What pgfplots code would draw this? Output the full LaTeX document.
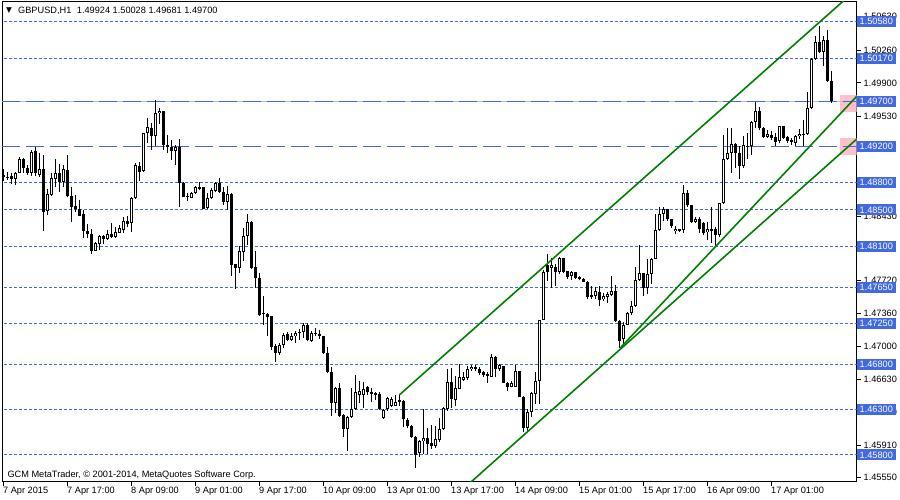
\documentclass[border=0pt]{standalone}
\usepackage{pgfplots}
\pgfplotsset{compat=1.18}
\usepackage{pgfplotstable}
\usepackage{fontspec}
\setmainfont{Liberation Sans}
\newfontfamily\dejavu{DejaVu Sans}
\newcommand\lab{\fontsize{9.2pt}{10pt}\selectfont}
\definecolor{boxblue}{RGB}{65,105,225}
\definecolor{pinkbox}{RGB}{255,192,203}
\definecolor{bidgray}{RGB}{192,192,192}
\definecolor{mtgreen}{RGB}{0,128,0}

\pgfplotstableread{
k o h l c
0 1.48885 1.48947 1.48822 1.48860
1 1.48866 1.48921 1.48830 1.48862
2 1.48874 1.48903 1.48782 1.48837
3 1.48837 1.48921 1.48774 1.48903
4 1.48903 1.49087 1.48903 1.49057
5 1.49057 1.49068 1.48903 1.48958
6 1.48958 1.48995 1.48885 1.48910
7 1.48910 1.49160 1.48874 1.49142
8 1.49149 1.49189 1.48874 1.48903
9 1.48885 1.49123 1.48859 1.48947
10 1.48947 1.49105 1.48271 1.48481
11 1.48492 1.48734 1.48444 1.48672
12 1.48664 1.48903 1.48653 1.48848
13 1.48837 1.49068 1.48756 1.48903
14 1.48903 1.49006 1.48701 1.48811
15 1.48811 1.48995 1.48756 1.48947
16 1.48947 1.49105 1.48646 1.48657
17 1.48657 1.48749 1.48371 1.48536
18 1.48543 1.48661 1.48481 1.48510
19 1.48510 1.48609 1.48433 1.48437
20 1.48451 1.48499 1.48187 1.48271
21 1.48268 1.48341 1.48187 1.48231
22 1.48231 1.48286 1.48011 1.48051
23 1.48051 1.48150 1.48047 1.48132
24 1.48125 1.48220 1.48058 1.48213
25 1.48213 1.48220 1.48125 1.48180
26 1.48180 1.48279 1.48169 1.48235
27 1.48235 1.48352 1.48187 1.48198
28 1.48198 1.48308 1.48187 1.48253
29 1.48249 1.48334 1.48242 1.48304
30 1.48286 1.48426 1.48249 1.48378
31 1.48378 1.48433 1.48308 1.48345
32 1.48352 1.48646 1.48260 1.48628
33 1.48628 1.49013 1.48617 1.48995
34 1.48984 1.49032 1.48822 1.48921
35 1.48929 1.49351 1.48921 1.49344
36 1.49344 1.49509 1.49233 1.49410
37 1.49410 1.49454 1.49160 1.49314
38 1.49314 1.49711 1.49204 1.49564
39 1.49564 1.49619 1.49443 1.49590
40 1.49590 1.49590 1.49160 1.49215
41 1.49215 1.49322 1.49123 1.49189
42 1.49197 1.49270 1.49050 1.49153
43 1.49153 1.49215 1.48995 1.49189
44 1.49197 1.49281 1.48528 1.48800
45 1.48800 1.48811 1.48639 1.48646
46 1.48653 1.48683 1.48598 1.48646
47 1.48635 1.48697 1.48628 1.48683
48 1.48683 1.48763 1.48675 1.48749
49 1.48749 1.48811 1.48719 1.48734
50 1.48749 1.48749 1.48506 1.48510
51 1.48517 1.48683 1.48510 1.48628
52 1.48628 1.48738 1.48617 1.48719
53 1.48712 1.48811 1.48701 1.48800
54 1.48800 1.48848 1.48690 1.48701
55 1.48701 1.48756 1.48554 1.48591
56 1.48591 1.48763 1.48499 1.48672
57 1.48672 1.48683 1.47774 1.47891
58 1.47902 1.47902 1.47634 1.47865
59 1.47865 1.48104 1.47803 1.48049
60 1.48038 1.48305 1.47939 1.48214
61 1.48214 1.48452 1.48111 1.48371
62 1.48371 1.48379 1.47847 1.47865
63 1.47876 1.48049 1.47645 1.47748
64 1.47748 1.47810 1.47326 1.47341
65 1.47363 1.47554 1.47238 1.47356
66 1.47359 1.47370 1.47113 1.47326
67 1.47334 1.47334 1.46959 1.46992
68 1.47002 1.47022 1.46828 1.46919
69 1.46919 1.47040 1.46905 1.47011
70 1.47015 1.47143 1.46977 1.47124
71 1.47132 1.47150 1.47059 1.47070
72 1.47066 1.47143 1.47059 1.47113
73 1.47106 1.47169 1.47033 1.47143
74 1.47143 1.47194 1.47070 1.47158
75 1.47150 1.47249 1.47084 1.47235
76 1.47235 1.47253 1.47059 1.47066
77 1.47059 1.47169 1.47048 1.47143
78 1.47150 1.47194 1.47113 1.47132
79 1.47132 1.47180 1.47084 1.47113
80 1.47106 1.47113 1.46912 1.46923
81 1.46923 1.46985 1.46699 1.46710
82 1.46710 1.46772 1.46226 1.46373
83 1.46373 1.46545 1.46259 1.46538
84 1.46538 1.46593 1.46222 1.46233
85 1.46241 1.46252 1.45995 1.46087
86 1.46087 1.46233 1.45848 1.46215
87 1.46215 1.46538 1.46204 1.46307
88 1.46307 1.46681 1.46299 1.46498
89 1.46461 1.46618 1.46373 1.46509
90 1.46461 1.46600 1.46314 1.46527
91 1.46545 1.46564 1.46461 1.46490
92 1.46490 1.46534 1.46387 1.46472
93 1.46483 1.46490 1.46409 1.46472
94 1.46472 1.46490 1.46296 1.46307
95 1.46204 1.46307 1.46197 1.46299
96 1.46307 1.46435 1.46288 1.46424
97 1.46343 1.46435 1.46332 1.46417
98 1.46343 1.46461 1.46336 1.46387
99 1.46398 1.46472 1.46343 1.46400
100 1.46398 1.46409 1.46105 1.46197
101 1.46189 1.46204 1.46094 1.46116
102 1.46123 1.46131 1.45984 1.45995
103 1.45995 1.46006 1.45660 1.45801
104 1.45823 1.45969 1.45774 1.45958
105 1.45958 1.46307 1.45806 1.45984
106 1.45984 1.46094 1.45811 1.45922
107 1.45933 1.46131 1.45870 1.45901
108 1.45901 1.46123 1.45874 1.45977
109 1.45969 1.46204 1.45947 1.46087
110 1.46087 1.46325 1.46076 1.46318
111 1.46307 1.46747 1.46288 1.46600
112 1.46601 1.46756 1.46315 1.46411
113 1.46411 1.46675 1.46344 1.46536
114 1.46528 1.46804 1.46528 1.46657
115 1.46631 1.46720 1.46620 1.46657
116 1.46646 1.46786 1.46631 1.46749
117 1.46749 1.46793 1.46731 1.46775
118 1.46767 1.46786 1.46720 1.46752
119 1.46749 1.46767 1.46683 1.46705
120 1.46712 1.46731 1.46657 1.46683
121 1.46694 1.46712 1.46594 1.46668
122 1.46657 1.46914 1.46657 1.46878
123 1.46878 1.46889 1.46657 1.46742
124 1.46742 1.46804 1.46731 1.46786
125 1.46778 1.46786 1.46594 1.46594
126 1.46594 1.46601 1.46510 1.46554
127 1.46554 1.46620 1.46547 1.46591
128 1.46554 1.46793 1.46547 1.46723
129 1.46723 1.46731 1.46436 1.46444
130 1.46444 1.46455 1.46050 1.46098
131 1.46098 1.46308 1.46050 1.46271
132 1.46271 1.46491 1.46216 1.46480
133 1.46473 1.46720 1.46363 1.46620
134 1.46620 1.47293 1.46359 1.47290
135 1.47290 1.47834 1.47283 1.47816
136 1.47891 1.48012 1.47719 1.47818
137 1.47865 1.47975 1.47645 1.47891
138 1.47876 1.47902 1.47664 1.47818
139 1.47818 1.47982 1.47792 1.47975
140 1.47975 1.47975 1.47810 1.47818
141 1.47829 1.47829 1.47744 1.47767
142 1.47767 1.47829 1.47730 1.47821
143 1.47821 1.47821 1.47744 1.47755
144 1.47767 1.47774 1.47730 1.47737
145 1.47744 1.47755 1.47708 1.47708
146 1.47711 1.47719 1.47524 1.47543
147 1.47561 1.47664 1.47517 1.47546
148 1.47554 1.47656 1.47517 1.47605
149 1.47601 1.47664 1.47444 1.47510
150 1.47517 1.47579 1.47499 1.47554
151 1.47543 1.47598 1.47473 1.47579
152 1.47561 1.47774 1.47554 1.47609
153 1.47609 1.47671 1.47261 1.47279
154 1.47279 1.47290 1.46975 1.47059
155 1.47077 1.47261 1.46986 1.47235
156 1.47235 1.47378 1.47231 1.47363
157 1.47363 1.47499 1.47341 1.47444
158 1.47444 1.47876 1.47433 1.47726
159 1.47726 1.48111 1.47719 1.47803
160 1.47810 1.47810 1.47554 1.47638
161 1.47645 1.47957 1.47572 1.47792
162 1.47792 1.47975 1.47682 1.47957
163 1.47957 1.48459 1.47957 1.48276
164 1.48276 1.48532 1.48268 1.48451
165 1.48459 1.48532 1.48378 1.48506
166 1.48506 1.48506 1.48378 1.48404
167 1.48404 1.48404 1.48305 1.48323
168 1.48268 1.48323 1.48232 1.48294
169 1.48276 1.48294 1.48257 1.48287
170 1.48279 1.48775 1.48250 1.48683
171 1.48690 1.48720 1.48529 1.48554
172 1.48554 1.48554 1.48360 1.48371
173 1.48371 1.48426 1.48360 1.48400
174 1.48400 1.48426 1.48242 1.48286
175 1.48352 1.48371 1.48224 1.48242
176 1.48261 1.48371 1.48169 1.48286
177 1.48286 1.48529 1.48139 1.48272
178 1.48286 1.48308 1.48103 1.48224
179 1.48224 1.48573 1.48198 1.48573
180 1.48573 1.49325 1.48566 1.49057
181 1.49057 1.49399 1.49050 1.49123
182 1.49123 1.49403 1.48909 1.49231
183 1.49231 1.49238 1.48964 1.49129
184 1.49129 1.49202 1.48836 1.48983
185 1.48983 1.49311 1.48964 1.49220
186 1.49209 1.49348 1.49056 1.49195
187 1.49202 1.49483 1.49110 1.49465
188 1.49465 1.49695 1.49403 1.49593
189 1.49593 1.49640 1.49377 1.49403
190 1.49403 1.49410 1.49293 1.49304
191 1.49304 1.49385 1.49293 1.49337
192 1.49330 1.49366 1.49275 1.49293
193 1.49300 1.49348 1.49202 1.49246
194 1.49257 1.49428 1.49238 1.49421
195 1.49421 1.49428 1.49282 1.49293
196 1.49304 1.49311 1.49238 1.49257
197 1.49268 1.49293 1.49220 1.49246
198 1.49238 1.49330 1.49209 1.49319
199 1.49311 1.49392 1.49282 1.49337
200 1.49326 1.49494 1.49202 1.49341
201 1.49337 1.49805 1.49330 1.49622
202 1.49622 1.50170 1.49611 1.50159
203 1.50159 1.50415 1.50152 1.50346
204 1.50346 1.50525 1.50232 1.50243
205 1.50243 1.50415 1.50086 1.50371
206 1.50371 1.50481 1.49915 1.49922
207 1.49924 1.50028 1.49681 1.49700
}\candles

\begin{document}
\begin{tikzpicture}
\useasboundingbox (0,0) rectangle (900pt,500pt);
\begin{axis}[
  at={(2.5pt,18pt)}, anchor=south west,
  scale only axis, width=854pt, height=480pt,
  xmin=-0.25, xmax=213.25,
  ymin=1.45502, ymax=1.50791,
  axis line style={line width=1pt, black},
  tick align=outside, xtick pos=bottom, ytick pos=right,
  major tick length=4pt,
  tick style={black, line width=0.8pt},
  xtick={0,16,...,192},
  xticklabels={,,,,,,,,,,,,},
  ytick={1.5063,1.5026,1.4990,1.4953,1.4843,1.4772,1.4736,1.4700,1.4663,1.4627,1.4591,1.4555},
  yticklabel pos=right,
  scaled y ticks=false,
  y tick label style={anchor=west, font=\lab, text height=6.6pt, text depth=0pt, inner ysep=2.2pt, inner xsep=3pt,
     /pgf/number format/fixed, /pgf/number format/fixed zerofill, /pgf/number format/precision=5, /pgf/number format/assume math mode=true},
  extra y ticks={1.5058,1.5017,1.4970,1.4920,1.4880,1.4850,1.4810,1.4765,1.4725,1.4680,1.4630,1.4580},
  extra y tick style={major tick length=0pt, y tick label style={fill=boxblue, text=white}},
]
% pink trendline price tags
\addplot[fill=pinkbox, draw=none] coordinates {(209.1,1.49766) (214,1.49766) (214,1.49579) (209.1,1.49579)} -- cycle;
\addplot[fill=pinkbox, draw=none] coordinates {(209.1,1.49292) (214,1.49292) (214,1.49105) (209.1,1.49105)} -- cycle;
% horizontal levels
\addplot[bidgray, line width=1pt] coordinates {(-1,1.4970) (215,1.4970)};
\foreach \lv in {1.5058,1.5017,1.4880,1.4850,1.4810,1.4765,1.4725,1.4680,1.4630,1.4580}{
  \addplot[boxblue, line width=1pt, dash pattern=on 3pt off 2pt] coordinates {(-1,\lv) (215,\lv)};
}
\addplot[boxblue, line width=1pt, dash pattern=on 18pt off 6pt] coordinates {(-0.25,1.4970) (215,1.4970)};
\addplot[boxblue, line width=1pt, dash pattern=on 18pt off 6pt] coordinates {(-0.25,1.4920) (215,1.4920)};
% wicks
\addplot[draw=none, error bars/.cd, y dir=both, y explicit, error mark=none,
  error bar style={draw=black, line width=1pt, solid}]
  table[x=k, y expr={(\thisrow{h}+\thisrow{l})/2}, y error expr={(\thisrow{h}-\thisrow{l})/2}] {\candles};
% bodies
\addplot[draw=none, error bars/.cd, y dir=both, y explicit, error mark=none,
  error bar style={draw=black, line width=3pt, solid}]
  table[x=k, y expr={(\thisrow{o}+\thisrow{c})/2}, y error expr={max(abs(\thisrow{c}-\thisrow{o})/2,0.00005)}] {\candles};
% white interiors of bullish candles
\addplot[draw=none, error bars/.cd, y dir=both, y explicit, error mark=none,
  error bar style={draw=white, line width=1pt, solid}]
  table[x=k, y expr={(\thisrow{o}+\thisrow{c})/2}, y error expr={(\thisrow{c}>\thisrow{o})*max((\thisrow{c}-\thisrow{o})/2-0.00011,0)}] {\candles};
% channel lines
\addplot[mtgreen, line width=1.6pt] coordinates {(98.95,1.46461) (215,1.50999)};
\addplot[mtgreen, line width=1.6pt] coordinates {(110,1.45233) (215,1.49347)};
\addplot[mtgreen, line width=1.6pt] coordinates {(154.1,1.46975) (215,1.49831)};
\end{axis}
\node[inner sep=0pt, font=\dejavu\fontsize{7.5pt}{8pt}\selectfont] at (9pt,489pt) {▼};
\node[anchor=base west, inner sep=0pt, font=\lab] at (18pt,486pt) {GBPUSD,H1\hspace{3pt} 1.49924 1.50028 1.49681 1.49700};
\node[anchor=base west, inner sep=0pt, font=\lab] at (7.3pt,22pt) {GCM MetaTrader, © 2001-2014, MetaQuotes Software Corp.};
\foreach \k/\t in {0/{7 Apr 2015},16/{7 Apr 17:00},32/{8 Apr 09:00},48/{9 Apr 01:00},64/{9 Apr 17:00},80/{10 Apr 09:00},96/{13 Apr 01:00},112/{13 Apr 17:00},128/{14 Apr 09:00},144/{15 Apr 01:00},160/{15 Apr 17:00},176/{16 Apr 09:00},192/{17 Apr 01:00}}{
  \node[anchor=base west, inner sep=0pt, font=\lab] at ({3pt+4pt*\k},6pt) {\t};
}
\end{tikzpicture}
\end{document}
